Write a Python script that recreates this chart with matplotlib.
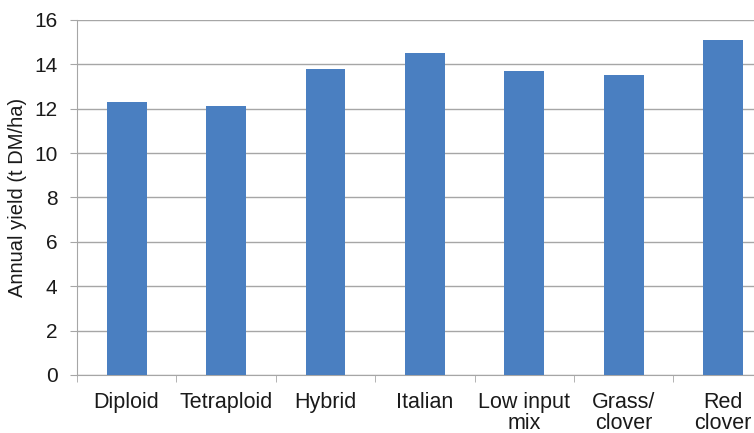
import matplotlib.pyplot as plt
import numpy as np

categories = ['Diploid', 'Tetraploid', 'Hybrid', 'Italian', 'Low input\nmix',
              'Grass/\nclover', 'Red\nclover']
yields = [12.3, 12.1, 13.8, 14.5, 13.7, 13.5, 15.1]

plt.rcParams['font.family'] = ['Liberation Sans', 'DejaVu Sans']

fig = plt.figure(figsize=(7.54, 4.33), dpi=100)
# plot area runs past the right edge of the figure, so the last column is clipped
ax = fig.add_axes([0.102, 0.134, 0.923, 0.820])

x = np.arange(len(categories))
ax.bar(x, yields, width=0.4, color='#4a7fc1', zorder=3)

ax.set_xlim(-0.5, len(categories) - 0.5)
ax.set_ylim(0, 16)
ax.set_yticks(np.arange(0, 17, 2))
ax.yaxis.grid(True, color='#a6a6a6', linewidth=1.0, zorder=0)

ax.set_xticks(x)
ax.set_xticklabels(categories, fontsize=15.5, linespacing=1.05, color='#1a1a1a')
ax.set_xticks(np.arange(-0.5, len(categories), 1), minor=True)
ax.tick_params(axis='x', which='major', length=0, pad=12)
ax.tick_params(axis='x', which='minor', length=5, color='#a6a6a6', direction='out')
ax.tick_params(axis='y', length=5, color='#a6a6a6', labelsize=15, pad=9,
               labelcolor='#1a1a1a')

for side in ['top', 'right']:
    ax.spines[side].set_visible(False)
for side in ['left', 'bottom']:
    ax.spines[side].set_color('#a6a6a6')

ax.set_ylabel('Annual yield (t DM/ha)', fontsize=14.5, labelpad=5, color='#1a1a1a')

fig.savefig('out.png', dpi=100)
